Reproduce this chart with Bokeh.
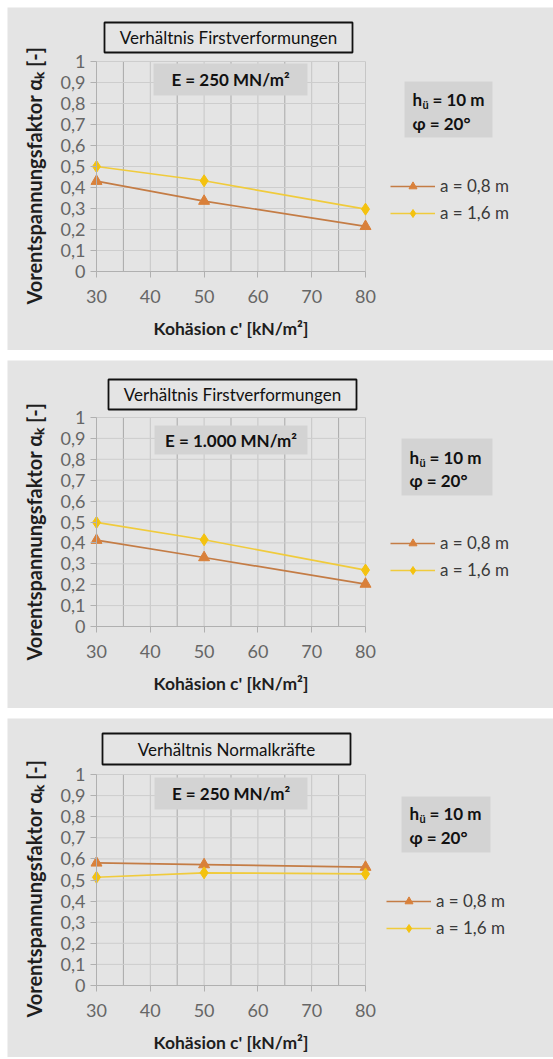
from bokeh.plotting import figure
from bokeh.models import (Range1d, FixedTicker, Legend, LegendItem, Label, BoxAnnotation)
from bokeh.layouts import column
from bokeh.embed import file_html
from bokeh.resources import INLINE

# ---------------- data ----------------
cohesion = [30, 50, 80]

p1_a08 = [0.43, 0.335, 0.215]
p1_a16 = [0.50, 0.432, 0.297]
p2_a08 = [0.413, 0.33, 0.203]
p2_a16 = [0.498, 0.415, 0.27]
p3_a08 = [0.581, 0.573, 0.561]
p3_a16 = [0.513, 0.534, 0.529]

series_names = ["a = 0,8 m", "a = 1,6 m"]
panel_titles = ["Verhältnis Firstverformungen", "Verhältnis Firstverformungen", "Verhältnis Normalkräfte"]
e_labels = ["E = 250 MN/m²", "E = 1.000 MN/m²", "E = 250 MN/m²"]
phi_label = "φ = 20°"
h_main, h_sub, h_rest = "h", "ü", "= 10 m"

x_ticks = [30, 40, 50, 60, 70, 80]
x_grid_mid = [35, 45, 55, 65, 75]
y_ticks = [0, 0.1, 0.2, 0.3, 0.4, 0.5, 0.6, 0.7, 0.8, 0.9, 1]
y_tick_labels = ["0", "0,1", "0,2", "0,3", "0,4", "0,5", "0,6", "0,7", "0,8", "0,9", "1"]
x_label = "Kohäsion c' [kN/m²]"
y_label = "Vorentspannungsfaktor αₖ [-]"
X_MIN, X_MAX, Y_MIN, Y_MAX = 30, 80, 0, 1

# ---------------- style ----------------
BG = "#e4e4e4"
BOX = "#d3d3d3"
ORANGE_L = "#c47c45"
ORANGE_M = "#d9803a"
YELLOW_L = "#f0cb3c"
YELLOW_M = "#f4c20f"
FONT = "Lato"

W = 546
FL = 89      # px from panel left to x = 30
FW = 269     # px width of the 30..80 span

layouts = [
    dict(H=343, ftop=54, fh=210, title=(8, 256, -39, -9), ebox=(57, 211, 2, 34),
         hbox=(308, 396, 20, 76), htext=(316, 38, 62), leg=(294, 126)),
    dict(H=348, ftop=57, fh=209, title=(12, 260, -38, -8), ebox=(58, 211, 8, 37),
         hbox=(305, 396, 21, 78), htext=(313, 40, 63), leg=(294, 127)),
    dict(H=339, ftop=56, fh=211, title=(6, 254, -41, -10), ebox=(58, 211, 3, 35),
         hbox=(305, 394, 22, 78), htext=(313, 39, 63), leg=(290, 128)),
]


def make_panel(title, etext, s08, s16, L):
    H, ftop, fh = L["H"], L["ftop"], L["fh"]
    sx = FW / float(X_MAX - X_MIN)
    sy = fh / float(Y_MAX - Y_MIN)
    fbot = H - ftop - fh

    def dx(px):
        return X_MIN + px / sx

    def dy(py):
        return Y_MAX - py / sy

    p = figure(width=W, height=H,
               x_range=Range1d(X_MIN - FL / sx, X_MIN + (W - FL) / sx),
               y_range=Range1d(Y_MIN - fbot / sy, Y_MAX + ftop / sy),
               output_backend="svg", toolbar_location=None,
               min_border=0,
               background_fill_color=BG, border_fill_color=BG, outline_line_color=None)
    p.xgrid.visible = False
    p.ygrid.visible = False

    # grid lines limited to the plot area
    p.segment(x0=x_ticks, y0=[Y_MIN] * len(x_ticks), x1=x_ticks, y1=[Y_MAX] * len(x_ticks),
              line_color="#c6c6c6", line_width=1, level="underlay")
    p.segment(x0=x_grid_mid, y0=[Y_MIN] * len(x_grid_mid), x1=x_grid_mid, y1=[Y_MAX] * len(x_grid_mid),
              line_color="#a9a9a9", line_width=1, level="underlay")
    p.segment(x0=[X_MIN] * len(y_ticks), y0=y_ticks, x1=[X_MAX] * len(y_ticks), y1=y_ticks,
              line_color="#cdcdcd", line_width=1, level="underlay")

    # axes, drawn at fixed data locations inside the frame
    for ax in (p.xaxis[0], p.yaxis[0]):
        ax.axis_line_color = "#b0b0b0"
        ax.major_tick_line_color = "#b0b0b0"
        ax.major_tick_out = 6
        ax.major_tick_in = 0
        ax.minor_tick_out = 0
        ax.minor_tick_in = 0
        ax.major_label_text_font = FONT
        ax.major_label_text_font_size = "18px"
        ax.major_label_text_color = "#666666"
    p.xaxis.fixed_location = Y_MIN
    p.yaxis.fixed_location = X_MIN
    p.xaxis.bounds = (X_MIN, X_MAX)
    p.yaxis.bounds = (Y_MIN, Y_MAX)
    p.xaxis.ticker = FixedTicker(ticks=x_ticks)
    p.yaxis.ticker = FixedTicker(ticks=y_ticks)
    p.yaxis.major_label_overrides = dict(zip(y_ticks, y_tick_labels))
    p.xaxis.major_label_standoff = 12
    p.yaxis.major_label_standoff = 5

    # axis titles
    p.add_layout(Label(x=dx(-63), y=dy(114), text=y_label, angle=90, angle_units="deg",
                       text_align="center", text_baseline="middle", text_font=FONT,
                       text_font_size="20px", text_font_style="bold", text_color="#1e1e1e"))
    p.add_layout(Label(x=dx(FW / 2.0), y=dy(fh + 57), text=x_label,
                       text_align="center", text_baseline="middle", text_font=FONT,
                       text_font_size="17.5px", text_font_style="bold", text_color="#1e1e1e"))

    # series
    l1 = p.line(cohesion, s08, line_color=ORANGE_L, line_width=1.7)
    m1 = p.scatter(cohesion, s08, marker="triangle", size=11, fill_color=ORANGE_M, line_color=ORANGE_M)
    l2 = p.line(cohesion, s16, line_color=YELLOW_L, line_width=1.7)
    m2 = p.scatter(cohesion, s16, marker="diamond", size=12, fill_color=YELLOW_M, line_color=YELLOW_M)

    # title box
    t = L["title"]
    p.add_layout(BoxAnnotation(left=dx(t[0]), right=dx(t[1]), top=dy(t[2]), bottom=dy(t[3]),
                               fill_color=BG, fill_alpha=1, line_color="#111111", line_alpha=1,
                               line_width=1.8))
    p.add_layout(Label(x=dx((t[0] + t[1]) / 2), y=dy((t[2] + t[3]) / 2), text=title,
                       text_align="center", text_baseline="middle", text_font=FONT,
                       text_font_size="17px", text_color="#111111"))
    # E box
    e = L["ebox"]
    p.add_layout(BoxAnnotation(left=dx(e[0]), right=dx(e[1]), top=dy(e[2]), bottom=dy(e[3]),
                               fill_color=BOX, fill_alpha=1, line_color=None))
    p.add_layout(Label(x=dx((e[0] + e[1]) / 2), y=dy((e[2] + e[3]) / 2), text=etext,
                       text_align="center", text_baseline="middle", text_font=FONT,
                       text_font_size="17px", text_font_style="bold", text_color="#111111"))
    # h / phi box
    hb = L["hbox"]
    p.add_layout(BoxAnnotation(left=dx(hb[0]), right=dx(hb[1]), top=dy(hb[2]), bottom=dy(hb[3]),
                               fill_color=BOX, fill_alpha=1, line_color=None))
    hx, hy1, hy2 = L["htext"]
    common = dict(text_baseline="middle", text_font=FONT, text_font_style="bold", text_color="#111111")
    p.add_layout(Label(x=dx(hx), y=dy(hy1), text=h_main, text_font_size="17px", **common))
    p.add_layout(Label(x=dx(hx + 10), y=dy(hy1 + 5), text=h_sub, text_font_size="11px", **common))
    p.add_layout(Label(x=dx(hx + 20), y=dy(hy1), text=h_rest, text_font_size="17px", **common))
    p.add_layout(Label(x=dx(hx), y=dy(hy2), text=phi_label, text_font_size="17px", **common))

    # legend (location in px from the frame's bottom-left corner)
    lx, ly = L["leg"]
    legend = Legend(items=[LegendItem(label=series_names[0], renderers=[l1, m1]),
                           LegendItem(label=series_names[1], renderers=[l2, m2])],
                    location=(FL + lx, H - ftop - ly - 36), padding=0, margin=0, spacing=6,
                    glyph_width=45, glyph_height=20, label_height=20, label_standoff=5,
                    label_text_font=FONT, label_text_font_size="17px", label_text_color="#3a3a3a",
                    background_fill_alpha=0, border_line_alpha=0)
    p.add_layout(legend)
    return p


p1 = make_panel(panel_titles[0], e_labels[0], p1_a08, p1_a16, layouts[0])
p2 = make_panel(panel_titles[1], e_labels[1], p2_a08, p2_a16, layouts[1])
p3 = make_panel(panel_titles[2], e_labels[2], p3_a08, p3_a16, layouts[2])

layout = column(p1, p2, p3, spacing=10, margin=(7, 0, 0, 7))
open("out.html", "w").write(file_html(layout, INLINE))
